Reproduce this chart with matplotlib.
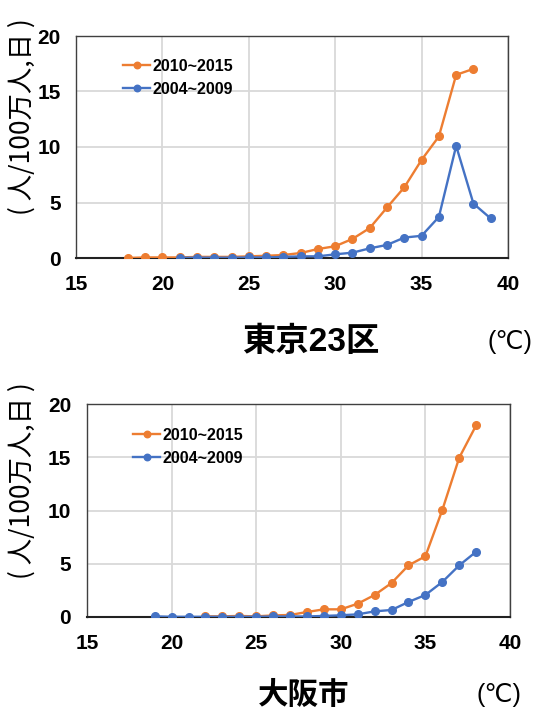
"""
heat illness rate vs daily max temperature, Tokyo 23 wards and Osaka city
"""

import numpy as np
import matplotlib
matplotlib.use("Agg")
import matplotlib.pyplot as plt

plt.rcParams['font.family'] = ['Liberation Sans', 'Noto Sans CJK JP', 'DejaVu Sans']

# --- data ---
tokyo_x_new = list(range(18, 39))
tokyo_y_new = [0.0, 0.05, 0.05, 0.05, 0.1, 0.1, 0.1, 0.15, 0.2, 0.27, 0.45,
               0.81, 1.06, 1.72, 2.7, 4.55, 6.37, 8.84, 10.95, 16.5, 17.04]
tokyo_x_old = list(range(21, 40))
tokyo_y_old = [0.02, 0.03, 0.03, 0.03, 0.05, 0.05, 0.1, 0.15, 0.15, 0.33,
               0.48, 0.87, 1.18, 1.84, 2.0, 3.7, 10.1, 4.9, 3.56]

osaka_x_new = list(range(22, 39))
osaka_y_new = [0.06, 0.06, 0.1, 0.06, 0.15, 0.19, 0.47, 0.72, 0.72, 1.25,
               2.07, 3.19, 4.85, 5.7, 10.05, 14.96, 18.0]
osaka_x_old = list(range(19, 39))
osaka_y_old = [0.06, 0.02, 0.02, 0.02, 0.02, 0.02, 0.02, 0.05, 0.05, 0.05,
               0.1, 0.16, 0.25, 0.53, 0.66, 1.41, 2.07, 3.29, 4.85, 6.13]

labels = ['2010~2015', '2004~2009']
x_ticks = [15, 20, 25, 30, 35, 40]
y_ticks = [0, 5, 10, 15, 20]
ylabel = '( 人/100万人,日 )'

ORANGE = '#ED7D31'
BLUE = '#4472C4'

W, H = 549, 711
fig = plt.figure(figsize=(W / 100, H / 100), dpi=100)


def make_axes(rect, xn, yn, xo, yo, legend_xy, ypad, xpad):
    ax = fig.add_axes(rect)
    ax.plot(xn, yn, color=ORANGE, lw=1.7, marker='o', ms=5.5, label=labels[0], zorder=3)
    ax.plot(xo, yo, color=BLUE, lw=1.7, marker='o', ms=5.5, label=labels[1], zorder=3)
    ax.set_xlim(15, 40)
    ax.set_ylim(0, 20)
    ax.set_xticks(x_ticks)
    ax.set_yticks(y_ticks)
    ax.grid(True, color='#D9D9D9', lw=1.3)
    ax.set_axisbelow(True)
    for s in ['top', 'right', 'left']:
        ax.spines[s].set_color('#404040')
        ax.spines[s].set_linewidth(1.0)
    ax.spines['bottom'].set_color('#222222')
    ax.spines['bottom'].set_linewidth(1.5)
    ax.tick_params(axis='both', length=0, labelsize=15)
    ax.tick_params(axis='y', pad=ypad)
    ax.tick_params(axis='x', pad=xpad)
    for t in ax.get_xticklabels() + ax.get_yticklabels():
        t.set_fontweight('bold')
    ax.legend(loc='upper left', bbox_to_anchor=legend_xy,
              bbox_transform=fig.transFigure, frameon=False,
              prop={'size': 11.5, 'weight': 'bold'}, handlelength=1.7,
              handletextpad=0.15, labelspacing=0.5, borderpad=0, borderaxespad=0,
              markerscale=0.85)
    return ax


make_axes([76 / W, 1 - 258 / H, 432 / W, 222 / H],
          tokyo_x_new, tokyo_y_new, tokyo_x_old, tokyo_y_old,
          (123 / W, 1 - 59 / H), 11, 12)
make_axes([87 / W, 1 - 617 / H, 423 / W, 213 / H],
          osaka_x_new, osaka_y_new, osaka_x_old, osaka_y_old,
          (133 / W, 1 - 428 / H), 11.5, 12.5)

# y labels
for cy in [117, 481]:
    fig.text(22 / W, 1 - cy / H, ylabel, rotation=90, ha='center', va='center',
             fontsize=19, family=['Noto Sans CJK JP', 'DejaVu Sans'])

# city titles and unit
fig.text(311 / W, 1 - 342 / H, '東京23区', ha='center', va='center', fontsize=24,
         fontweight='bold', family=['Liberation Sans', 'Noto Sans CJK JP'])
fig.text(510 / W, 1 - 342 / H, '(℃)', ha='center', va='center', fontsize=18,
         family=['Liberation Sans', 'DejaVu Sans'])
fig.text(304 / W, 1 - 695 / H, '大阪市', ha='center', va='center', fontsize=22,
         fontweight='bold', family=['Noto Sans CJK JP'])
fig.text(499 / W, 1 - 695 / H, '(℃)', ha='center', va='center', fontsize=18,
         family=['Liberation Sans', 'DejaVu Sans'])

fig.savefig('out.png', dpi=100)
